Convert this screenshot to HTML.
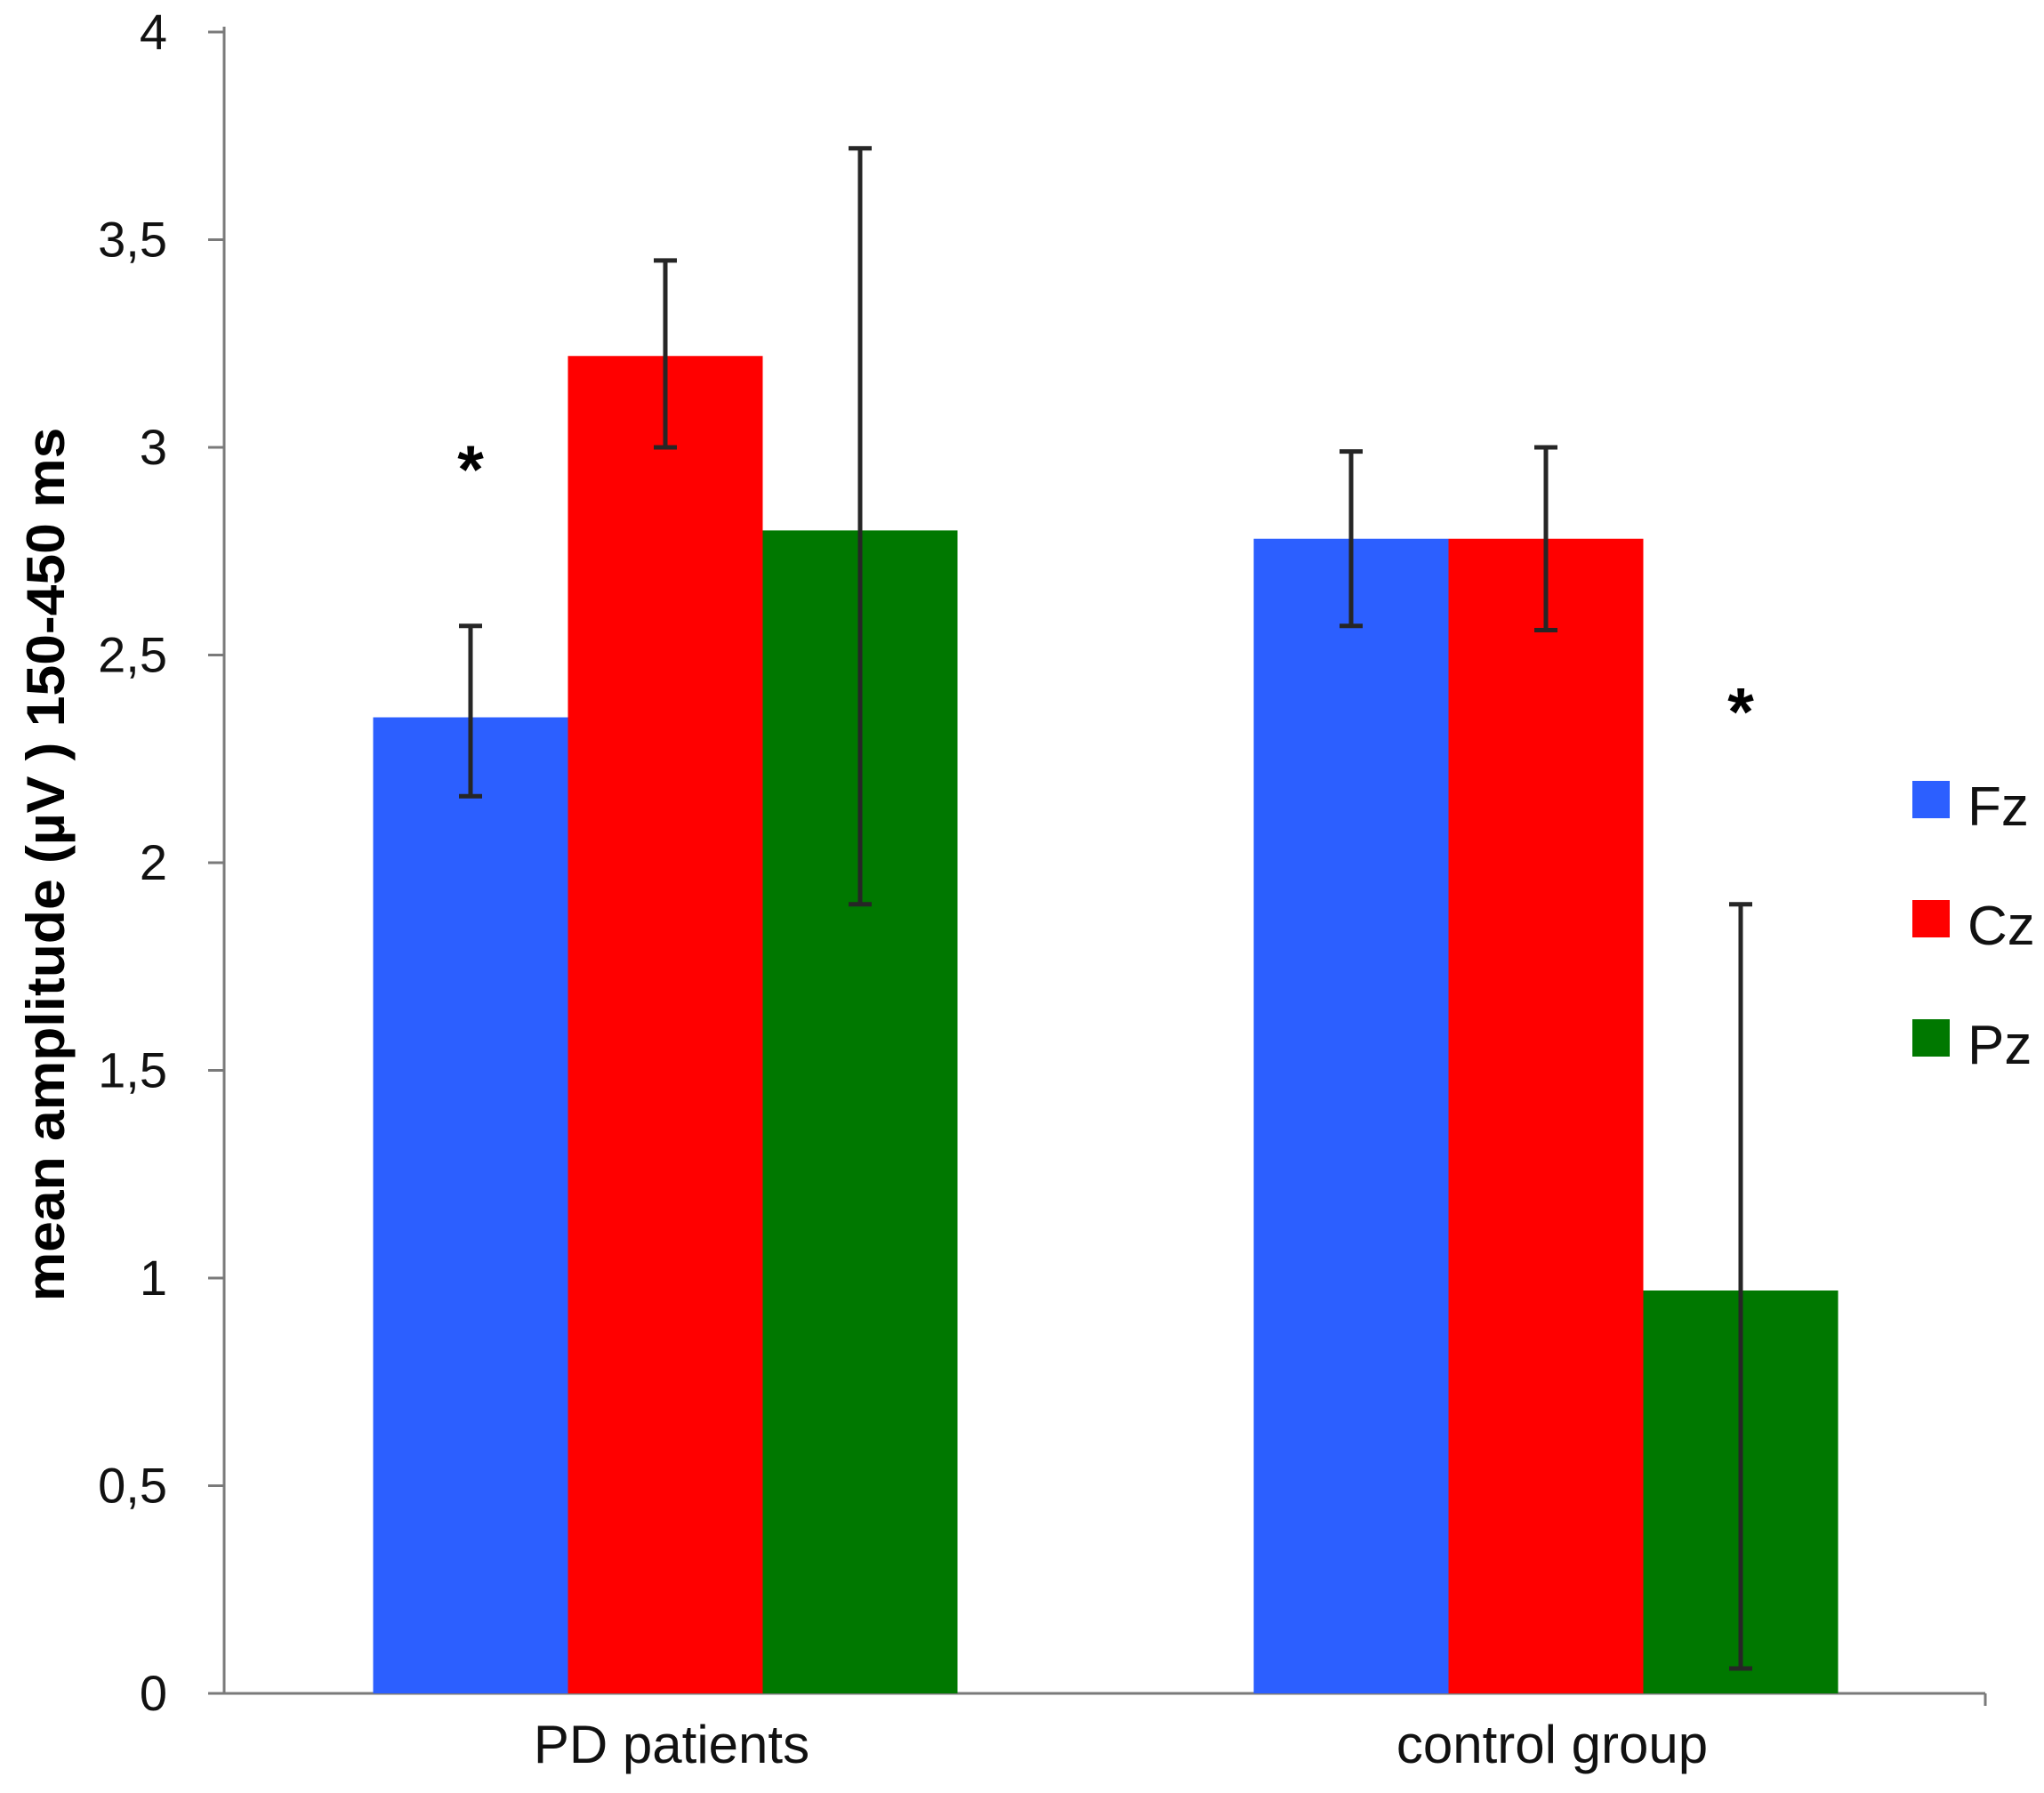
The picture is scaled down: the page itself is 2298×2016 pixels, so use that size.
<!DOCTYPE html>
<html><head><meta charset="utf-8"><style>
html,body{margin:0;padding:0;background:#fff;}
svg{display:block;font-family:"Liberation Sans",sans-serif;}
</style></head><body>
<svg id="chart" width="2298" height="2016" viewBox="0 0 2298 2016" xmlns="http://www.w3.org/2000/svg">
<g id="axes"></g>
<g id="bars"></g>
<g id="errs"></g>
<text transform="translate(72,972) rotate(-90) scale(1.04,1)" text-anchor="middle" font-size="60" font-weight="bold" fill="#000">mean amplitude (µV ) 150-450 ms</text>
<g id="legend"></g>
</svg>
<script>
const categories = ["PD patients", "control group"];
const seriesNames = ["Fz", "Cz", "Pz"];
const fzValues = [2.35, 2.78];
const czValues = [3.22, 2.78];
const pzValues = [2.80, 0.97];
const fzLow = [2.16, 2.57], fzHigh = [2.57, 2.99];
const czLow = [3.00, 2.56], czHigh = [3.45, 3.00];
const pzLow = [1.90, 0.06], pzHigh = [3.72, 1.90];
const significant = [[true,false,false],[false,false,true]];
const yTicks = [0, 0.5, 1, 1.5, 2, 2.5, 3, 3.5, 4];
const yTickLabels = ["0","0,5","1","1,5","2","2,5","3","3,5","4"];

const colors = ["#2c5fff", "#ff0000", "#007800"];
const NS = "http://www.w3.org/2000/svg";
const X0 = 252, X1 = 2232, Y0 = 1904, Y4 = 36;
const y = v => Y0 - (v / 4) * (Y0 - Y4);
const groupCenters = [748, 1738];
const barW = 219;
const barX = (g, s) => groupCenters[g] + (s - 1.5) * barW;
function mk(tag, attrs, parent) { const e = document.createElementNS(NS, tag); for (const k in attrs) e.setAttribute(k, attrs[k]); parent.appendChild(e); return e; }

const axes = document.getElementById('axes');
let l = mk('line', {x1:X0, y1:Y4-6, x2:X0, y2:Y0, stroke:'#7a7a7a', 'stroke-width':3}, axes);


l = mk('line', {x1:X0-18, y1:Y0, x2:X1, y2:Y0, stroke:'#7a7a7a', 'stroke-width':3}, axes);


mk('line', {x1:X1, y1:Y0, x2:X1, y2:Y0+14, stroke:'#7a7a7a', 'stroke-width':3}, axes);
yTicks.forEach((t, i) => {
  const tk = mk('line', {x1:X0-18, y1:y(t), x2:X0, y2:y(t), stroke:'#7a7a7a', 'stroke-width':3}, axes);
  
  
  const tx = mk('text', {x:188, y:y(t)+19, 'text-anchor':'end', 'font-size':56, fill:'#111'}, axes);
  tx.textContent = yTickLabels[i];
  
  
});
categories.forEach((c, g) => {
  const tx = mk('text', {x:groupCenters[g]+7, y:1982, 'text-anchor':'middle', 'font-size':60, fill:'#111'}, axes);
  tx.textContent = c;
  
  
});

const vals = [fzValues, czValues, pzValues];
const lows = [fzLow, czLow, pzLow];
const highs = [fzHigh, czHigh, pzHigh];
const barsG = document.getElementById('bars');
const errG = document.getElementById('errs');
for (let g = 0; g < categories.length; g++) {
  for (let s = 0; s < 3; s++) {
    const v = vals[s][g];
    const r = mk('rect', {x:barX(g,s), y:y(v), width:barW, height:Y0-y(v), fill:colors[s]}, barsG);
    
    
    const cx = barX(g,s) + barW/2;
    const e = mk('g', {stroke:'#262626', 'stroke-width':5}, errG);
    
    
    mk('line', {x1:cx, y1:y(highs[s][g]), x2:cx, y2:y(lows[s][g])}, e);
    mk('line', {x1:cx-13, y1:y(highs[s][g]), x2:cx+13, y2:y(highs[s][g])}, e);
    mk('line', {x1:cx-13, y1:y(lows[s][g]), x2:cx+13, y2:y(lows[s][g])}, e);
    if (significant[g][s]) {
      const top = Math.max(highs[s][g], v);
      const a = mk('text', {x:cx, y:y(top)-150 - (g===1?40:0), 'text-anchor':'middle', 'font-size':76, 'font-weight':'bold', fill:'#000'}, errG);
      a.textContent = '*';
      
      
    }
  }
}

const lg = document.getElementById('legend');
seriesNames.forEach((n, i) => {
  const yy = 878 + i * 134;
  const sw = mk('rect', {x:2150, y:yy, width:42, height:42, fill:colors[i]}, lg);
  
  
  const tx = mk('text', {x:2212, y:yy+50, 'font-size':62, fill:'#111'}, lg);
  tx.textContent = n;
  
  
});
</script>
</body></html>
